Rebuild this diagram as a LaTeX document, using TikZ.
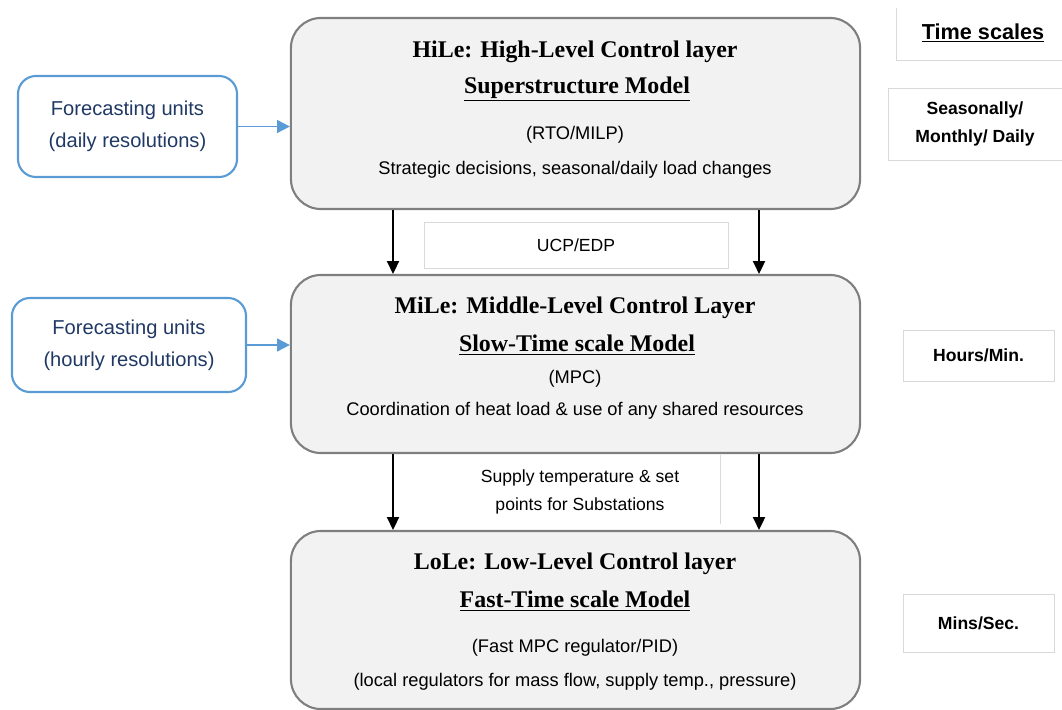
\documentclass[tikz,border=0pt]{standalone}
\usepackage{fontspec}
\setmainfont{Liberation Sans}
\newfontfamily\headfont{Liberation Serif}
\usetikzlibrary{arrows.meta, positioning}
\definecolor{layerfill}{HTML}{F2F2F2}
\definecolor{layerdraw}{HTML}{7F7F7F}
\definecolor{fcblue}{HTML}{5B9BD5}
\definecolor{fctext}{HTML}{1F3864}
\definecolor{tsgray}{HTML}{D9D9D9}
\tikzset{
  % control layer
  layerbox/.style={draw=layerdraw, line width=1.5pt, rounded corners=0.75cm,
    fill=layerfill, minimum width=14.225cm},
  headlbl/.style={font=\headfont\bfseries\fontsize{17}{20}\selectfont},
  bodylbl/.style={font=\fontsize{13}{16}\selectfont},
  % forecasting units
  fcbox/.style={draw=fcblue, line width=1.5pt, rounded corners=0.45cm, text=fctext,
    align=center, font=\fontsize{14.3}{22.7}\selectfont},
  fcarrow/.style={-{Triangle[length=3.2mm, width=3.2mm]}, fcblue, line width=1.4pt},
  % signals between layers
  flow/.style={-{Triangle[length=3.2mm, width=3mm]}, line width=1.4pt, black},
  sigbox/.style={draw=tsgray, line width=0.6pt, inner sep=0pt, align=center,
    font=\fontsize{12.5}{20.5}\selectfont},
  % time scale column
  tsbox/.style={draw=tsgray, line width=0.6pt, inner sep=0pt, align=center,
    font=\bfseries\fontsize{12.5}{20.5}\selectfont},
  tsline/.style={draw=tsgray, line width=0.6pt},
}
\begin{document}
\begin{tikzpicture}[x=0.025cm, y=-0.025cm]
  \useasboundingbox (0,0) rectangle (1062,709);
  % layers
  \node[layerbox, minimum height=4.775cm] (hile) at (575.5,113.5) {};
  \node[layerbox, minimum height=4.45cm] (mile) at (575.5,364) {};
  \node[layerbox, minimum height=4.45cm] (lole) at (575.5,620) {};
  \node[headlbl] (hile title) at (575,52) {HiLe: High-Level Control layer};
  \node[headlbl] (hile model) at (577,89) {\underline{Superstructure Model}};
  \node[bodylbl] (hile method) at (575,135) {(RTO/MILP)};
  \node[bodylbl] (hile task) at (575,170) {Strategic decisions, seasonal/daily load changes};
  \node[headlbl] (mile title) at (575,308) {MiLe: Middle-Level Control Layer};
  \node[headlbl] (mile model) at (577,345) {\underline{Slow-Time scale Model}};
  \node[bodylbl] (mile method) at (575,379) {(MPC)};
  \node[bodylbl] (mile task) at (575,411) {Coordination of heat load \& use of any shared resources};
  \node[headlbl] (lole title) at (575,564) {LoLe: Low-Level Control layer};
  \node[headlbl] (lole model) at (575,601) {\underline{Fast-Time scale Model}};
  \node[bodylbl] (lole method) at (575,648) {(Fast MPC regulator/PID)};
  \node[bodylbl] (lole task) at (575,682) {(local regulators for mass flow, supply temp., pressure)};
  % forecasting units
  \node[fcbox, minimum width=5.475cm, minimum height=2.525cm] (fc daily) at (127.5,126.5) {Forecasting units\\(daily resolutions)};
  \node[fcbox, minimum width=5.85cm, minimum height=2.35cm] (fc hourly) at (129,345) {Forecasting units\\(hourly resolutions)};
  \draw[fcarrow] (fc daily) -- (fc daily -| hile.west);
  \draw[fcarrow] (fc hourly) -- (fc hourly -| mile.west);
  % signals between layers
  \coordinate (lane l) at (393,0);
  \coordinate (lane r) at (759,0);
  \draw[flow] (hile.south -| lane l) -- (mile.north -| lane l);
  \draw[flow] (hile.south -| lane r) -- (mile.north -| lane r);
  \draw[flow] (mile.south -| lane l) -- (lole.north -| lane l);
  \draw[flow] (mile.south -| lane r) -- (lole.north -| lane r);
  \node[sigbox, minimum width=7.6cm, minimum height=1.15cm] (ucp) at (576,245) {UCP/EDP};
  \node[sigbox, draw=none] (supply) at (580,492) {Supply temperature \& set\\points for Substations};
  \draw[tsline] (720,455) -- (720,524);
  % time scales
  \node[tsbox, draw=none, font=\bfseries\fontsize{15.4}{18}\selectfont] (ts head) at (983,33) {\underline{Time scales}};
  \draw[tsline] (896,8) -- (896,60) -- (1062,60);
  \node[tsbox, minimum width=4.35cm, minimum height=1.8cm] (ts hile) at (975,124) {Seasonally/\\Monthly/ Daily};
  \node[tsbox, minimum width=3.775cm, minimum height=1.275cm] (ts mile) at (978.5,355.5) {Hours/Min.};
  \node[tsbox, minimum width=3.775cm, minimum height=1.45cm] (ts lole) at (978.5,623) {Mins/Sec.};
\end{tikzpicture}
\end{document}
